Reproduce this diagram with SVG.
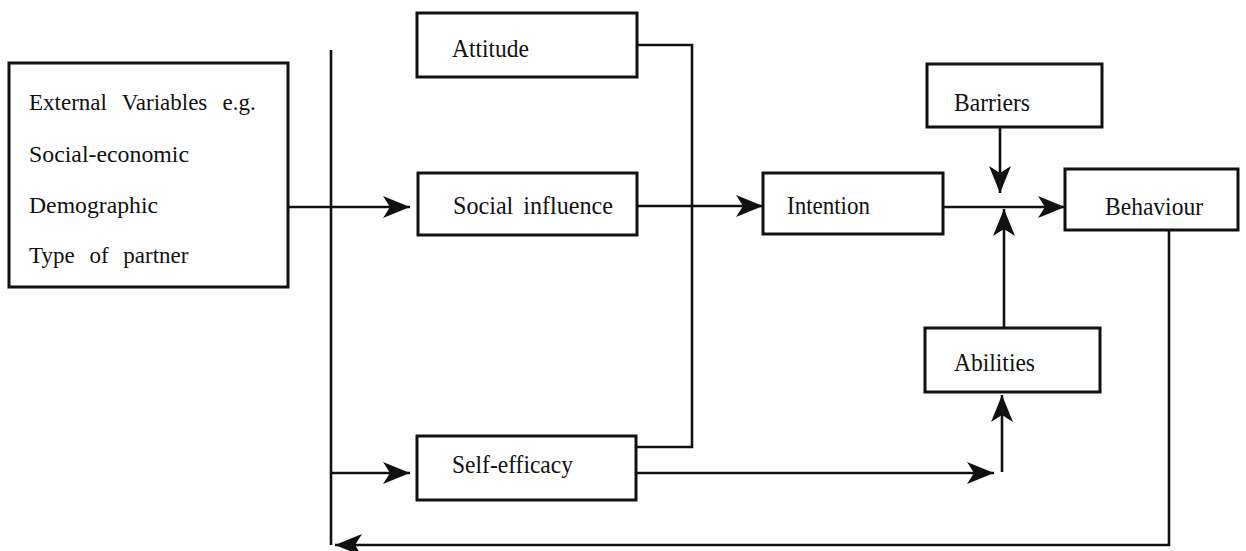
<svg xmlns="http://www.w3.org/2000/svg" width="1246" height="551" viewBox="0 0 1246 551">
<style>
.box{fill:#fff;stroke:#111;stroke-width:3}
.lbl{font-family:"Liberation Serif","Times New Roman",serif;font-size:25px;fill:#111}
.ext{font-family:"Liberation Serif","Times New Roman",serif;font-size:23px;fill:#111}
.con{fill:none;stroke:#111;stroke-width:2.6}
</style>
<defs>
<marker id="ah" viewBox="0 0 28 24" refX="27" refY="12" markerWidth="28" markerHeight="24" markerUnits="userSpaceOnUse" orient="auto">
<path d="M0,1 L27,12 L0,23 L7,12 Z" fill="#111"/>
</marker>
</defs>
<rect width="1246" height="551" fill="#fff"/>
<g id="connectors">
<path class="con" d="M331,50 V545"/>
<path class="con" d="M288,207 H410" marker-end="url(#ah)"/>
<path class="con" d="M331,473 H410" marker-end="url(#ah)"/>
<path class="con" d="M637,45 H692 V447 H636"/>
<path class="con" d="M637,206 H763" marker-end="url(#ah)"/>
<path class="con" d="M943,207 H1065" marker-end="url(#ah)"/>
<path class="con" d="M1000,127 V193" marker-end="url(#ah)"/>
<path class="con" d="M1004,328 V209" marker-end="url(#ah)"/>
<path class="con" d="M636,473 H994" marker-end="url(#ah)"/>
<path class="con" d="M1002,472 V395" marker-end="url(#ah)"/>
<path class="con" d="M1169,230 V545 H335" marker-end="url(#ah)"/>
</g>
<g id="external">
<rect class="box" x="9" y="63" width="279" height="224"/>
<text class="ext" x="29" y="110" word-spacing="9.5">External Variables e.g.</text>
<text class="ext" x="29" y="162" textLength="160" lengthAdjust="spacingAndGlyphs">Social-economic</text>
<text class="ext" x="29" y="213" textLength="129" lengthAdjust="spacingAndGlyphs">Demographic</text>
<text class="ext" x="29" y="263" word-spacing="9">Type of partner</text>
</g>
<g id="attitude">
<rect class="box" x="417" y="13" width="220" height="64"/>
<text class="lbl" x="452" y="57" textLength="77" lengthAdjust="spacingAndGlyphs">Attitude</text>
</g>
<g id="social">
<rect class="box" x="418" y="173" width="219" height="62"/>
<text class="lbl" x="453" y="214" word-spacing="4" textLength="160" lengthAdjust="spacingAndGlyphs">Social influence</text>
</g>
<g id="selfefficacy">
<rect class="box" x="417" y="436" width="219" height="64"/>
<text class="lbl" x="452" y="473" textLength="121" lengthAdjust="spacingAndGlyphs">Self-efficacy</text>
</g>
<g id="intention">
<rect class="box" x="763" y="173" width="180" height="61"/>
<text class="lbl" x="787" y="214" textLength="83" lengthAdjust="spacingAndGlyphs">Intention</text>
</g>
<g id="barriers">
<rect class="box" x="927" y="64" width="175" height="63"/>
<text class="lbl" x="954" y="111" textLength="76" lengthAdjust="spacingAndGlyphs">Barriers</text>
</g>
<g id="behaviour">
<rect class="box" x="1065" y="169" width="173" height="61"/>
<text class="lbl" x="1105" y="215" textLength="98" lengthAdjust="spacingAndGlyphs">Behaviour</text>
</g>
<g id="abilities">
<rect class="box" x="925" y="328" width="175" height="64"/>
<text class="lbl" x="954" y="371" textLength="81" lengthAdjust="spacingAndGlyphs">Abilities</text>
</g>
</svg>
